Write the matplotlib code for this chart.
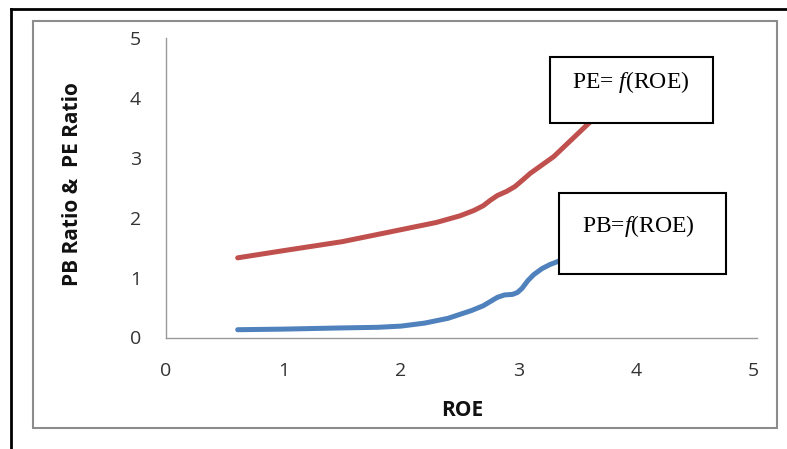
import matplotlib

matplotlib.use("Agg")
import matplotlib.pyplot as plt
from matplotlib.patches import Rectangle
from matplotlib.lines import Line2D

plt.rcParams["mathtext.fontset"] = "custom"
plt.rcParams["mathtext.rm"] = "Liberation Serif"
plt.rcParams["mathtext.it"] = "Liberation Serif:italic"

# ROE vs PE ratio (red) and PB ratio (blue)
roe_pe = [0.61, 1.0, 1.5, 2.0, 2.3, 2.5, 2.62, 2.7, 2.76, 2.82, 2.9, 2.97, 3.03, 3.1,
          3.2, 3.3, 3.45, 3.6, 3.75]
pe = [1.33, 1.45, 1.6, 1.8, 1.92, 2.03, 2.12, 2.2, 2.29, 2.37, 2.44, 2.52, 2.62, 2.74,
      2.88, 3.02, 3.3, 3.58, 3.85]

roe_pb = [0.61, 1.0, 1.5, 1.8, 2.0, 2.2, 2.4, 2.6, 2.7, 2.76, 2.82, 2.88, 2.95, 2.99,
          3.03, 3.08, 3.13, 3.2, 3.27, 3.35, 3.45]
pb = [0.13, 0.14, 0.16, 0.17, 0.19, 0.24, 0.32, 0.45, 0.53, 0.6, 0.67, 0.71, 0.72, 0.75,
      0.82, 0.95, 1.05, 1.15, 1.22, 1.28, 1.33]

ticks = [0, 1, 2, 3, 4, 5]

W, H = 787, 449


def fx(x):
    return x / W


def fy(y):
    return 1 - y / H


fig = plt.figure(figsize=(W / 100, H / 100), dpi=100)

# plot area
ax = fig.add_axes([fx(166), fy(337.5), (757 - 166) / W, (337.5 - 38) / H])
ax.plot(roe_pe, pe, color="#C0504D", lw=3.6, solid_capstyle="round",
        solid_joinstyle="round", zorder=3)
ax.plot(roe_pb, pb, color="#4F81BD", lw=3.6, solid_capstyle="round",
        solid_joinstyle="round", zorder=3)
ax.set_xlim(0, 5.03)
ax.set_ylim(0, 5)
ax.set_xticks(ticks)
ax.set_yticks(ticks)
for s in ("top", "right"):
    ax.spines[s].set_visible(False)
for s in ("left", "bottom"):
    ax.spines[s].set_color("#9a9a9a")
    ax.spines[s].set_linewidth(1.0)
ax.tick_params(length=0, labelsize=14, labelcolor="#333333")
ax.tick_params(axis="y", pad=18)
ax.tick_params(axis="x", pad=18)
for lab in ax.get_xticklabels() + ax.get_yticklabels():
    lab.set_fontfamily("Open Sans")

fig.text(fx(462), fy(410), "ROE", ha="center", va="center", fontsize=15,
         fontweight="bold", family="Open Sans", color="#111111")
fig.text(fx(72), fy(184), "PB Ratio &  PE Ratio", ha="center", va="center",
         rotation=90, fontsize=15, fontweight="bold", family="Open Sans",
         color="#111111")

# chart frame and outer page border
fig.add_artist(Rectangle((fx(33), fy(428)), (777 - 33) / W, (428 - 21) / H,
                         transform=fig.transFigure, fill=False,
                         edgecolor="#8c8c8c", lw=1.5, zorder=0))
fig.add_artist(Line2D([fx(11), fx(11)], [fy(9), 0], transform=fig.transFigure,
                      color="black", lw=2))
fig.add_artist(Line2D([fx(11), 1], [fy(9), fy(9)], transform=fig.transFigure,
                      color="black", lw=2))

# annotation boxes
fig.add_artist(Rectangle((fx(550), fy(123)), (713 - 550) / W, (123 - 57) / H,
                         transform=fig.transFigure, facecolor="white",
                         edgecolor="black", lw=1.5, zorder=5))
fig.text(fx(631), fy(82), r"PE= $\mathit{f}$(ROE)", ha="center", va="center",
         fontsize=17, family="Liberation Serif", zorder=6)

fig.add_artist(Rectangle((fx(559), fy(274)), (726 - 559) / W, (274 - 193) / H,
                         transform=fig.transFigure, facecolor="white",
                         edgecolor="black", lw=1.5, zorder=5))
fig.text(fx(638), fy(226), r"PB=$\mathit{f}$(ROE)", ha="center", va="center",
         fontsize=17, family="Liberation Serif", zorder=6)

fig.savefig("out.png", dpi=100)
